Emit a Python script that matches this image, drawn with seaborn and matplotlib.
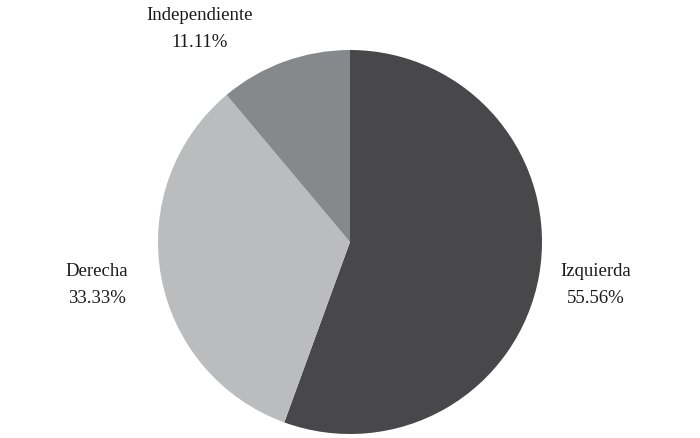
import matplotlib
matplotlib.use("Agg")
import matplotlib.pyplot as plt
import seaborn as sns

labels = ["Izquierda", "Derecha", "Independiente"]
shares = [55.56, 33.33, 11.11]
colors = ["#48484a", "#bbbcbe", "#87888b"]

sns.set_theme(style="white")
plt.rcParams['font.family'] = ['Liberation Serif', 'DejaVu Serif']

fig = plt.figure(figsize=(7, 4.38), dpi=100)
ax = fig.add_axes([0, 0, 1, 1])

r = 192  # pie radius in pixels
ax.pie(shares, colors=colors, startangle=90, counterclock=False,
       radius=1, wedgeprops={'linewidth': 0})
ax.set_xlim(-350 / r, 350 / r)
ax.set_ylim(-196 / r, 242 / r)
ax.set_aspect('equal')
ax.axis('off')

# label positions (pixels from top-left)
label_pos = {"Izquierda": (596, 285), "Derecha": (97, 285), "Independiente": (200, 29)}
for name, val in zip(labels, shares):
    px, py = label_pos[name]
    ax.text((px - 350) / r, (242 - py) / r, f"{name}\n{val:.2f}%",
            ha='center', va='center', fontsize=13.5, color='#1a1a1a',
            linespacing=1.75)

plt.savefig('out.png', dpi=100)
